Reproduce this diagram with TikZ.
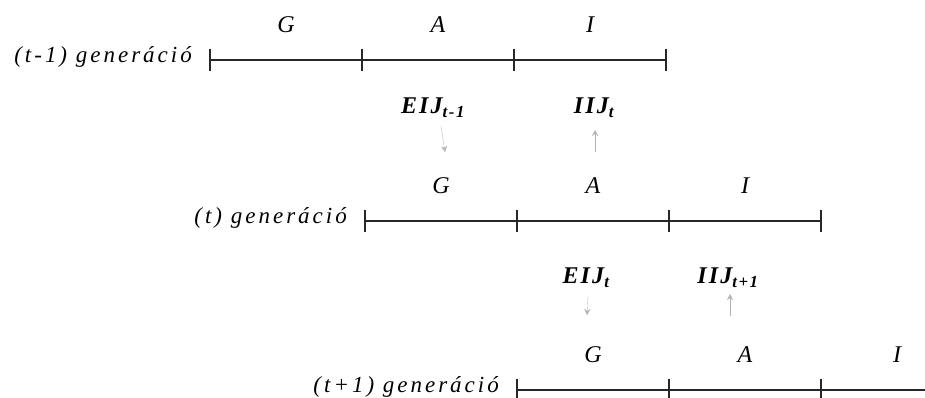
\documentclass[tikz,border=0pt]{standalone}
\usepackage{fontspec}
\setmainfont{Liberation Serif}
\newfontfamily\spacedfont[LetterSpace=13]{Liberation Serif}
\newfontfamily\fluxfont[LetterSpace=9]{Liberation Serif}
\usepackage{tikz}
\usetikzlibrary{arrows.meta,positioning,calc}
\colorlet{Ink}{black!85}
\colorlet{Faint}{black!30}

\begin{document}
\begin{tikzpicture}[
    x=1pt,y=-1pt,
    gen/.style={anchor=east,inner sep=0pt,font=\spacedfont\fontsize{23}{27}\selectfont\itshape},
    phase/.style={inner sep=0pt,font=\fontsize{24}{28}\selectfont\itshape},
    flux/.style={inner sep=0pt,font=\fluxfont\fontsize{24}{28}\selectfont\bfseries\itshape},
    bar/.style={line width=1.4pt,Ink},
    pointer/.style={-{Stealth[length=6pt,width=6pt]},line width=0.3pt,Faint}
  ]
    \useasboundingbox (0,0) rectangle (925,398);

    % generation rows: G, A, I segments
    \foreach \row/\y/\x/\txt in {a/60/210/(t-1) generáció,b/221/365/(t) generáció,c/390/517/(t+1) generáció}{
      \coordinate (\row0) at (\x,\y);
      \coordinate (\row1) at (\x+152,\y);
      \coordinate (\row2) at (\x+304,\y);
      \coordinate (\row3) at (\x+456,\y);
      \node[gen] (\row lbl) at (\x-18,\y-3) {\txt};
      \draw[bar] (\row0) -- (\row1) -- (\row2) -- (\row3);
      \foreach \k in {0,1,2,3}
        \draw[bar] ($(\row\k)+(0,-11)$) -- ($(\row\k)+(0,11)$);
      \node[phase] (\row G) at ($(\row0)!0.5!(\row1)+(0,-35)$) {G};
      \node[phase] (\row A) at ($(\row1)!0.5!(\row2)+(0,-35)$) {A};
      \node[phase] (\row I) at ($(\row2)!0.5!(\row3)+(0,-35)$) {I};
    }

    % flows between generations
    \node[flux] (eijA) at (433,108) {EIJ\textsubscript{t-1}};
    \node[flux] (iijA) at (594,108) {IIJ\textsubscript{t}};
    \node[flux] (eijB) at (586,278) {EIJ\textsubscript{t}};
    \node[flux] (iijB) at (728,278) {IIJ\textsubscript{t+1}};

    \coordinate (downA) at (445,152);
    \coordinate (upA) at (595,130);
    \coordinate (downB) at (587,315);
    \coordinate (upB) at (730,294);

    \draw[pointer] (eijA.south) ++(8,8) -- (downA);
    \draw[pointer] ($(upA)+(0,22)$) -- (upA);
    \draw[pointer] (eijB.south) ++(2,8) -- (downB);
    \draw[pointer] ($(upB)+(0,22)$) -- (upB);
\end{tikzpicture}
\end{document}
